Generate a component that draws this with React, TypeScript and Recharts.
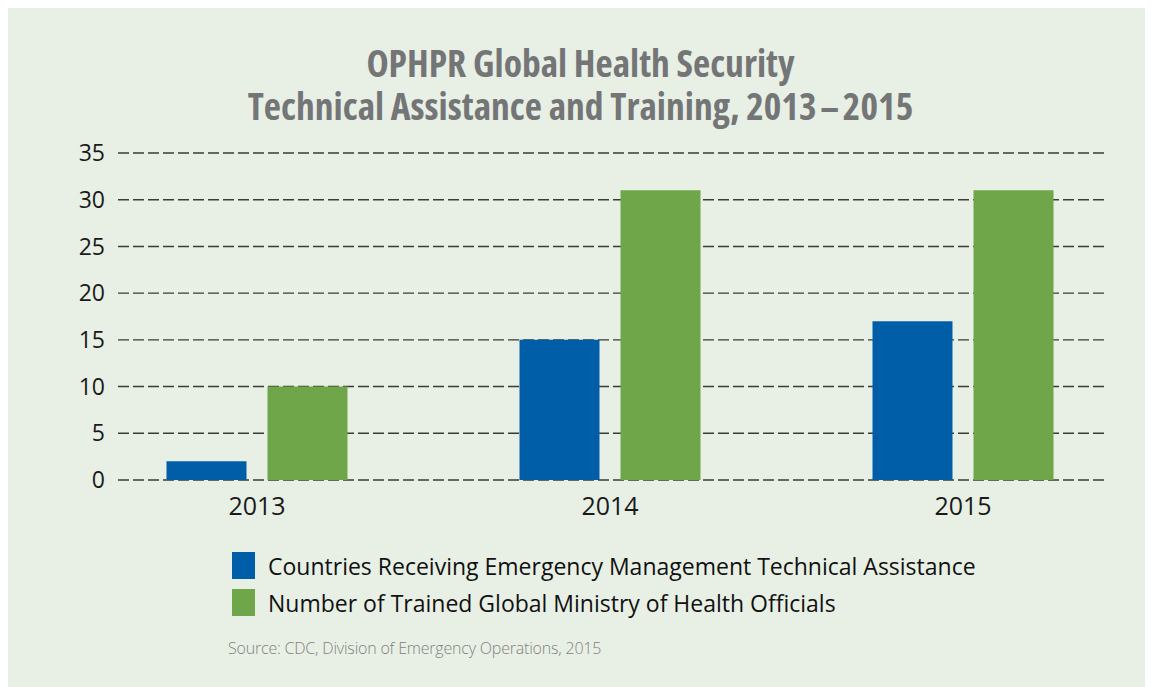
import { BarChart, Bar, XAxis, YAxis, CartesianGrid, Legend } from 'recharts';

const years = ['2013', '2014', '2015'];
const countriesAssisted = [2, 15, 17];
const officialsTrained = [10, 31, 31];
const yTicks = [0, 5, 10, 15, 20, 25, 30, 35];

const BLUE = '#005ea8';
const GREEN = '#70a64a';
const BG = '#e8f0e5';
const FONT = "'Open Sans', 'Noto Sans', sans-serif";

const data = years.map((year, i) => ({
  year,
  countries: countriesAssisted[i],
  officials: officialsTrained[i],
}));

const titleLine = {
  position: 'absolute' as const, left: 0, width: 1145, textAlign: 'center' as const,
  fontFamily: FONT, fontWeight: 700, fontSize: 37.5, lineHeight: '43px',
  color: '#747577', fontStretch: 'condensed', whiteSpace: 'nowrap' as const,
};

const LegendBox = ({ payload }: any) => (
  <div style={{ position: 'relative', width: 1145, height: 167, fontFamily: FONT }}>
    {(payload || []).map((p: any, i: number) => (
      <div
        key={p.value}
        style={{ position: 'absolute', left: 224, top: 32 + i * 37, height: 27, display: 'flex', alignItems: 'center' }}
      >
        <span style={{ width: 23, height: 27, background: p.color, display: 'inline-block' }} />
        <span style={{ marginLeft: 13, fontSize: 23, color: '#111', whiteSpace: 'nowrap' }}>
          {p.value}
        </span>
      </div>
    ))}
    <div
      style={{
        position: 'absolute', left: 220, top: 117, fontSize: 16, letterSpacing: -0.2,
        fontWeight: 300, color: '#828282', whiteSpace: 'nowrap',
      }}
    >
      Source: CDC, Division of Emergency Operations, 2015
    </div>
  </div>
);

export default function App() {
  return (
    <div style={{ position: 'relative', width: 1145, height: 679, background: BG }}>
      <div style={{ ...titleLine, top: 33 }}>OPHPR Global Health Security</div>
      <div style={{ ...titleLine, top: 76 }}>
        Technical Assistance and Training, 2013{'\u200a'}–{'\u200a'}2015
      </div>
      <BarChart
        width={1145}
        height={679}
        data={data}
        barSize={80}
        barGap={21}
        margin={{ top: 145, right: 49, left: 0, bottom: 0 }}
      >
        <CartesianGrid vertical={false} stroke="#3a3a3a" strokeWidth={1.4} strokeDasharray="11 4" />
        <XAxis
          dataKey="year"
          axisLine={false}
          tickLine={false}
          height={40}
          tickMargin={11}
          padding={{ left: -37.5, right: -35.5 }}
          tick={{ fontSize: 25, fontFamily: FONT, fill: '#1a1a1a' }}
        />
        <YAxis
          domain={[0, 35]}
          ticks={yTicks}
          width={110}
          axisLine={false}
          tickLine={false}
          tickMargin={7}
          tick={{ fontSize: 23, fontFamily: FONT, fill: '#1a1a1a' }}
        />
        <Legend verticalAlign="bottom" align="left" layout="horizontal" content={<LegendBox />} wrapperStyle={{ left: 0 }} />
        <Bar dataKey="countries" name="Countries Receiving Emergency Management Technical Assistance" fill={BLUE} isAnimationActive={false} />
        <Bar dataKey="officials" name="Number of Trained Global Ministry of Health Officials" fill={GREEN} isAnimationActive={false} />
      </BarChart>
    </div>
  );
}
